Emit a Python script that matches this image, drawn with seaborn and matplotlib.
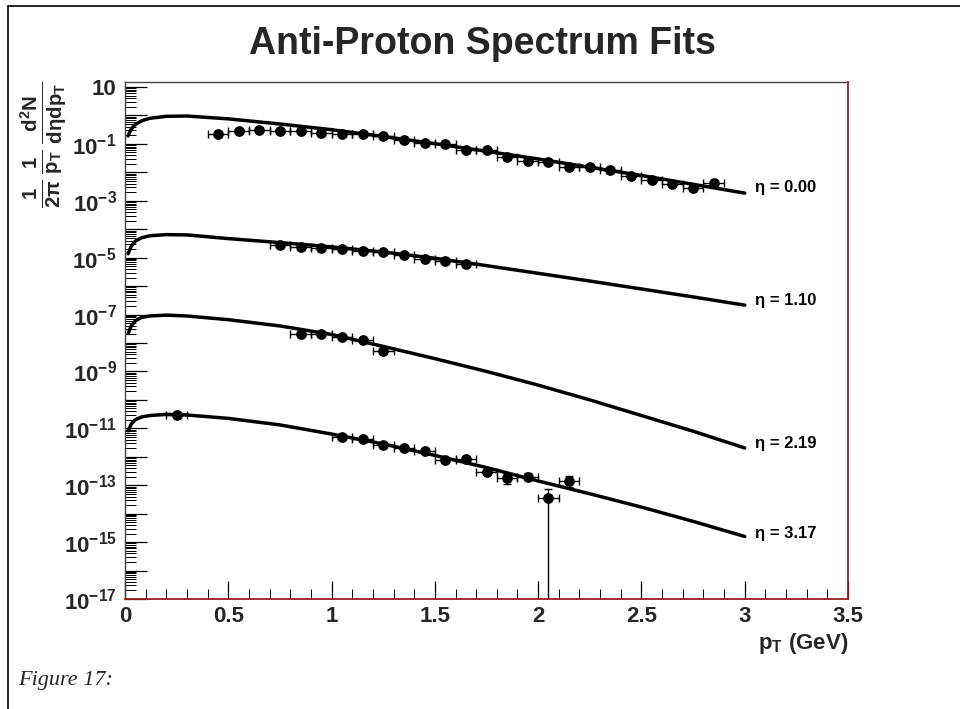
import numpy as np
import pandas as pd
import matplotlib
matplotlib.use("Agg")
import matplotlib.pyplot as plt
from matplotlib.lines import Line2D
from matplotlib.ticker import FixedLocator, LogLocator, NullFormatter, FuncFormatter, MultipleLocator
import seaborn as sns

# ---------------- data ----------------
fit_pt = [0.015, 0.03, 0.05, 0.08, 0.12, 0.2, 0.3, 0.5, 0.75, 1.0,
          1.25, 1.5, 1.75, 2.0, 2.25, 2.5, 2.75, 3.0]
fit_eta000 = [0.191, 0.331, 0.479, 0.646, 0.794, 0.933, 0.955, 0.759, 0.501, 0.316,
              0.182, 0.102, 0.0550, 0.0295, 0.0151, 0.00776, 0.00380, 0.00186]
fit_eta110 = [1.38e-5, 2.51e-5, 3.80e-5, 5.01e-5, 5.89e-5, 6.46e-5, 6.31e-5, 4.68e-5, 3.39e-5, 2.40e-5,
              1.58e-5, 9.55e-6, 5.25e-6, 2.82e-6, 1.51e-6, 7.94e-7, 4.17e-7, 2.14e-7]
fit_eta219 = [2.14e-8, 3.98e-8, 6.03e-8, 7.94e-8, 8.91e-8, 9.55e-8, 8.91e-8, 6.61e-8, 3.98e-8, 2.00e-8,
              7.59e-9, 2.82e-9, 1.00e-9, 3.31e-10, 1.00e-10, 2.82e-11, 7.94e-12, 2.04e-12]
fit_eta317 = [8.13e-12, 1.41e-11, 2.00e-11, 2.51e-11, 2.82e-11, 3.09e-11, 2.95e-11, 2.24e-11, 1.32e-11, 6.31e-12,
              2.82e-12, 1.12e-12, 4.17e-13, 1.41e-13, 5.01e-14, 1.70e-14, 5.37e-15, 1.58e-15]

pt_eta000 = [0.45, 0.55, 0.65, 0.75, 0.85, 0.95, 1.05, 1.15, 1.25, 1.35, 1.45, 1.55,
             1.65, 1.75, 1.85, 1.95, 2.05, 2.15, 2.25, 2.35, 2.45, 2.55, 2.65, 2.75, 2.85]
val_eta000 = [0.224, 0.288, 0.309, 0.288, 0.288, 0.251, 0.219, 0.219, 0.182, 0.132, 0.105, 0.098,
              0.062, 0.062, 0.034, 0.026, 0.024, 0.015, 0.016, 0.0123, 0.0076, 0.0055, 0.0040, 0.0028, 0.0042]

pt_eta110 = [0.75, 0.85, 0.95, 1.05, 1.15, 1.25, 1.35, 1.45, 1.55, 1.65]
val_eta110 = [2.9e-5, 2.4e-5, 2.2e-5, 2.0e-5, 1.66e-5, 1.55e-5, 1.2e-5, 8.9e-6, 7.8e-6, 6.0e-6]

pt_eta219 = [0.85, 0.95, 1.05, 1.15, 1.25]
val_eta219 = [2.0e-8, 2.0e-8, 1.66e-8, 1.26e-8, 5.1e-9]

pt_eta317 = [0.25, 1.05, 1.15, 1.25, 1.35, 1.45, 1.55, 1.65, 1.75, 1.85, 1.95, 2.05, 2.15]
val_eta317 = [2.9e-11, 5.1e-12, 4.1e-12, 2.6e-12, 2.0e-12, 1.6e-12, 7.6e-13, 8.7e-13,
              3.0e-13, 1.8e-13, 2.0e-13, 3.5e-14, 1.4e-13]
low_eta317 = [2.6e-11, 4.6e-12, 3.7e-12, 2.3e-12, 1.8e-12, 1.4e-12, 6.6e-13, 7.5e-13,
              2.5e-13, 1.1e-13, 1.5e-13, 1.0e-18, 9.0e-14]
high_eta317 = [3.2e-11, 5.6e-12, 4.5e-12, 2.9e-12, 2.2e-12, 1.8e-12, 8.6e-13, 9.9e-13,
               3.6e-13, 2.4e-13, 2.6e-13, 7.2e-14, 2.1e-13]

bin_halfwidth = 0.05

eta_names = ["0.00", "1.10", "2.19", "3.17"]
eta_label_y = [3.0e-3, 3.2e-7, 3.0e-12, 2.0e-15]

# ---------------- tables ----------------
fits = {"0.00": fit_eta000, "1.10": fit_eta110, "2.19": fit_eta219, "3.17": fit_eta317}
pts = {"0.00": (pt_eta000, val_eta000), "1.10": (pt_eta110, val_eta110),
       "2.19": (pt_eta219, val_eta219), "3.17": (pt_eta317, val_eta317)}

fit_df = pd.concat([pd.DataFrame({"pT": fit_pt, "y": v, "eta": k}) for k, v in fits.items()],
                   ignore_index=True)
pts_df = pd.concat([pd.DataFrame({"pT": p, "y": v, "eta": k}) for k, (p, v) in pts.items()],
                   ignore_index=True)

# ---------------- style ----------------
sns.set_theme(style="white")
plt.rcParams["font.family"] = ["Liberation Sans", "DejaVu Sans"]
plt.rcParams["font.weight"] = "bold"
plt.rcParams["axes.unicode_minus"] = False
plt.rcParams["mathtext.fontset"] = "custom"
plt.rcParams["mathtext.rm"] = "Liberation Sans:bold"
plt.rcParams["mathtext.bf"] = "Liberation Sans:bold"
plt.rcParams["mathtext.it"] = "Liberation Sans:bold"
plt.rcParams["mathtext.default"] = "bf"

W, H = 960, 709
fig = plt.figure(figsize=(W / 100, H / 100), dpi=100)
fig.patch.set_facecolor("white")

ax_l, ax_r, ax_t, ax_b = 125, 848, 82, 599
ax = fig.add_axes([ax_l / W, 1 - ax_b / H, (ax_r - ax_l) / W, (ax_b - ax_t) / H])
ax.set_facecolor("white")

# error bars
for k, (p, v) in pts.items():
    if k == "3.17":
        yerr = [np.array(v) - np.array(low_eta317), np.array(high_eta317) - np.array(v)]
    else:
        yerr = None
    ax.errorbar(p, v, xerr=bin_halfwidth, yerr=yerr, fmt="none", ecolor="black",
                elinewidth=1.0, capsize=3, capthick=1.0, zorder=2)

# fit lines
sns.lineplot(data=fit_df, x="pT", y="y", units="eta", estimator=None, color="black",
             linewidth=2.5, ax=ax, legend=False, zorder=3, sort=False)

# markers
sns.scatterplot(data=pts_df, x="pT", y="y", color="black", s=60, edgecolor="black",
                linewidth=0, ax=ax, legend=False, zorder=4)

ax.set_yscale("log")
ax.set_xlim(0, 3.5)
ax.set_ylim(1e-17, 15)

# ticks
ax.yaxis.set_major_locator(FixedLocator([10.0 ** k for k in range(-17, 2)]))

def yfmt(v, pos):
    k = int(round(np.log10(v)))
    if k % 2 == 0:
        return ""
    if k == 1:
        return "10"
    return r"$\mathbf{10^{%d}}$" % k

ax.yaxis.set_major_formatter(FuncFormatter(yfmt))
ax.yaxis.set_minor_locator(LogLocator(base=10, subs=np.arange(2, 10), numticks=60))
ax.yaxis.set_minor_formatter(NullFormatter())
ax.xaxis.set_major_locator(MultipleLocator(0.5))
ax.xaxis.set_minor_locator(MultipleLocator(0.1))
ax.xaxis.set_major_formatter(FuncFormatter(lambda v, p: "%g" % v))

ax.tick_params(axis="y", which="major", direction="in", length=16, width=0.9, color="black",
               labelsize=16, pad=6, left=True, right=False)
ax.tick_params(axis="y", which="minor", direction="in", length=8, width=0.7, color="black",
               left=True, right=False)
ax.tick_params(axis="x", which="major", direction="in", length=13, width=0.9, color="black",
               labelsize=16, pad=5, bottom=True, top=False)
ax.tick_params(axis="x", which="minor", direction="in", length=7, width=0.7, color="black",
               bottom=True, top=False)
for lab in ax.get_xticklabels() + ax.get_yticklabels():
    lab.set_fontweight("bold")

ax.set_xlabel("")
ax.set_ylabel("")

for side in ["left", "top"]:
    ax.spines[side].set_color("#444444")
    ax.spines[side].set_linewidth(1.0)
for side in ["bottom", "right"]:
    ax.spines[side].set_color("#9b1c1c")
    ax.spines[side].set_linewidth(1.3)

# eta labels
for name, yl in zip(eta_names, eta_label_y):
    ax.text(3.05, yl, "\u03b7 = " + name, fontsize=12, fontweight="bold",
            ha="left", va="center", color="black")

# titles / labels
fig.text(482 / W, 1 - 44 / H, "Anti-Proton Spectrum Fits", ha="center", va="center",
         fontsize=27, fontweight="bold")
fig.text(44 / W, 1 - 145 / H,
         r"$\frac{1}{2\pi}\,\frac{1}{p_{T}}\,\frac{d^{2}N}{d\eta dp_{T}}$",
         rotation=90, ha="center", va="center", fontsize=21)
fig.text(ax_r / W, 1 - 644 / H, r"$p_{T}$ (GeV)", ha="right", va="center",
         fontsize=16, fontweight="bold")
fig.text(18 / W, 1 - 681 / H, "Figure 17:", ha="left", va="center", fontsize=16,
         family="Liberation Serif", style="italic", fontweight="normal")

# page border
fig.add_artist(Line2D([8 / W, 1.0], [1 - 6 / H, 1 - 6 / H], transform=fig.transFigure,
                      color="black", linewidth=1.2))
fig.add_artist(Line2D([8 / W, 8 / W], [0.0, 1 - 6 / H], transform=fig.transFigure,
                      color="black", linewidth=1.2))

fig.savefig("out.png", dpi=100, facecolor="white")
